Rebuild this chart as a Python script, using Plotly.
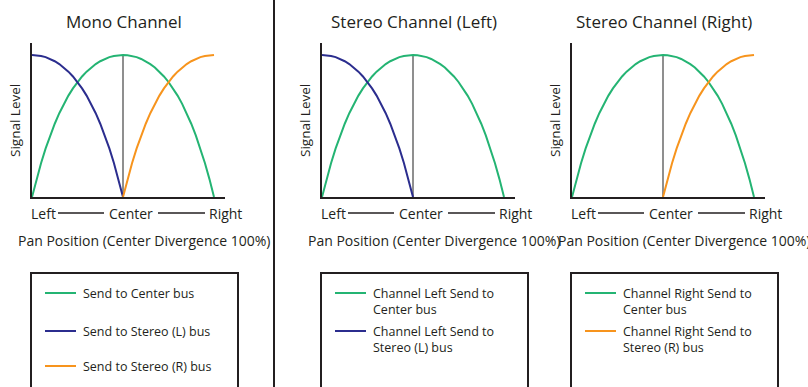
import plotly.graph_objects as go

# pan positions for each half, 0 = Left, 0.5 = Center, 1 = Right
pan_left = [0, 0.025, 0.05, 0.075, 0.1, 0.125, 0.15, 0.175, 0.2, 0.225, 0.25,
            0.275, 0.3, 0.325, 0.35, 0.375, 0.4, 0.425, 0.45, 0.475, 0.5]
pan_right = [0.5, 0.525, 0.55, 0.575, 0.6, 0.625, 0.65, 0.675, 0.7, 0.725, 0.75,
             0.775, 0.8, 0.825, 0.85, 0.875, 0.9, 0.925, 0.95, 0.975, 1.0]

# signal levels
stereo_l_send = [1.0, 0.998, 0.993, 0.985, 0.972, 0.956, 0.936, 0.912, 0.883, 0.849, 0.81,
                 0.765, 0.714, 0.656, 0.59, 0.516, 0.434, 0.342, 0.239, 0.126, 0]
stereo_r_send = [0, 0.126, 0.239, 0.342, 0.434, 0.516, 0.59, 0.656, 0.714, 0.765, 0.81,
                 0.849, 0.883, 0.912, 0.936, 0.956, 0.972, 0.985, 0.993, 0.998, 1.0]
center_send_left = [0, 0.126, 0.239, 0.342, 0.434, 0.516, 0.59, 0.656, 0.714, 0.765, 0.81,
                    0.849, 0.883, 0.912, 0.936, 0.956, 0.972, 0.985, 0.993, 0.998, 1.0]
center_send_right = [1.0, 0.998, 0.993, 0.985, 0.972, 0.956, 0.936, 0.912, 0.883, 0.849, 0.81,
                     0.765, 0.714, 0.656, 0.59, 0.516, 0.434, 0.342, 0.239, 0.126, 0]
center_mark_x = [0.5, 0.5]
center_mark_y = [0, 1.0]

titles = ["Mono Channel", "Stereo Channel (Left)", "Stereo Channel (Right)"]
legend_items = [
    [("Send to Center bus", "green"), ("Send to Stereo (L) bus", "blue"),
     ("Send to Stereo (R) bus", "orange")],
    [("Channel Left Send to<br>Center bus", "green"),
     ("Channel Left Send to<br>Stereo (L) bus", "blue")],
    [("Channel Right Send to<br>Center bus", "green"),
     ("Channel Right Send to<br>Stereo (R) bus", "orange")],
]

W, H = 808, 387
GREEN = "#24b473"
BLUE = "#2b2d8e"
ORANGE = "#f7941d"
GRAY = "#8f8f8f"
INK = "#231f20"
FONT = "Open Sans"
colors = {"green": GREEN, "blue": BLUE, "orange": ORANGE}


def px(x):
    return x / W


def py(y):
    return 1 - y / H


fig = go.Figure()

# left edge of each plot (pixels)
panel_x0 = [32, 322, 572]
span = 182  # pixels from Left to Right


def line(x, y, color, ax):
    fig.add_trace(go.Scatter(x=x, y=y, mode="lines", line=dict(color=color, width=2),
                             xaxis="x" + ax, yaxis="y" + ax, showlegend=False, hoverinfo="skip"))


for i in range(3):
    ax = "" if i == 0 else str(i + 1)
    line(center_mark_x, center_mark_y, GRAY, ax)
    line(pan_left + pan_right[1:], center_send_left + center_send_right[1:], GREEN, ax)
    if i in (0, 1):
        line(pan_left, stereo_l_send, BLUE, ax)
    if i in (0, 2):
        line(pan_right, stereo_r_send, ORANGE, ax)


def note(text, x, y, size, **kw):
    d = dict(text=text, x=px(x), y=py(y), xref="paper", yref="paper", showarrow=False,
             xanchor="center", yanchor="middle", font=dict(size=size, color=INK))
    d.update(kw)
    return d


annotations = []
shapes = []
layout = {}
for i in range(3):
    x0 = panel_x0[i]
    key = "" if i == 0 else str(i + 1)
    layout["xaxis" + key] = dict(domain=[px(x0), px(x0 + 193)], range=[0, 193 / span],
                                 showline=True, linecolor=INK, linewidth=2, showgrid=False,
                                 zeroline=False, showticklabels=False, ticks="",
                                 anchor="y" + key, fixedrange=True)
    layout["yaxis" + key] = dict(domain=[py(197), py(43)], range=[0, 154 / 142],
                                 showline=True, linecolor=INK, linewidth=2, showgrid=False,
                                 zeroline=False, showticklabels=False, ticks="",
                                 anchor="x" + key, fixedrange=True)
    annotations.append(note(titles[i], x0 + 92, 22, 17))
    annotations.append(note("Signal Level", x0 - 17, 121, 13.5, textangle=-90))
    # Left -- Center -- Right
    annotations.append(note("Left", x0 - 3, 213, 14, xanchor="left"))
    annotations.append(note("Center", x0 + 99, 213, 14))
    annotations.append(note("Right", x0 + 212, 213, 14, xanchor="right"))
    for a, b in [(26, 72), (126, 173)]:
        shapes.append(dict(type="line", xref="paper", yref="paper", x0=px(x0 + a), x1=px(x0 + b),
                           y0=py(213), y1=py(213), line=dict(color=INK, width=1.5)))
    annotations.append(note("Pan Position (Center Divergence 100%)", x0 + 112, 241, 14))
    # legend box
    shapes.append(dict(type="rect", xref="paper", yref="paper", x0=px(x0 - 1), x1=px(x0 + 206),
                       y0=py(400), y1=py(273), line=dict(color=INK, width=2)))
    ys = [293, 331, 366] if i == 0 else [293, 331]
    for (label, c), yy in zip(legend_items[i], ys):
        shapes.append(dict(type="line", xref="paper", yref="paper", x0=px(x0 + 13), x1=px(x0 + 44),
                           y0=py(yy), y1=py(yy), line=dict(color=colors[c], width=2)))
        annotations.append(note(label, x0 + 49, yy - 10, 12.5, xanchor="left", yanchor="top",
                                align="left"))

# divider between mono and stereo
shapes.append(dict(type="line", xref="paper", yref="paper", x0=px(274), x1=px(274),
                   y0=0, y1=1, line=dict(color=INK, width=2)))

fig.update_layout(**layout)
fig.update_layout(width=W, height=H, margin=dict(l=0, r=0, t=0, b=0),
                  paper_bgcolor="white", plot_bgcolor="white",
                  font=dict(family=FONT, color=INK),
                  annotations=annotations, shapes=shapes)

fig.write_html("out.html", config={"displayModeBar": False},
               post_script="document.body.style.margin='0';")
